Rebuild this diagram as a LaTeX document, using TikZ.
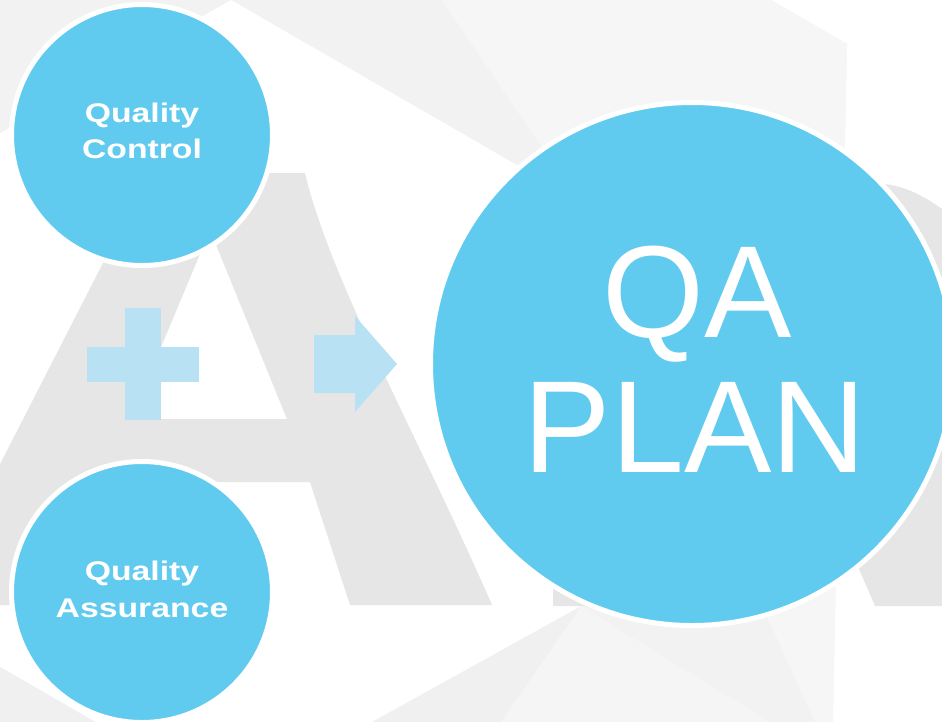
\documentclass[tikz,border=0pt]{standalone}
\usepackage{graphicx}
\usepackage{fontspec}
\setmainfont{Liberation Sans}
\definecolor{cblue}{HTML}{61CBEF}
\definecolor{plusblue}{HTML}{B8E2F4}
\definecolor{agray}{HTML}{E6E6E6}
\definecolor{ringA}{HTML}{F2F2F2}
\definecolor{ringB}{HTML}{F6F6F6}
\definecolor{ringC}{HTML}{F5F5F5}
\definecolor{ringD}{HTML}{F0F0F0}
\definecolor{ringE}{HTML}{F6F6F6}
\begin{document}
\begin{tikzpicture}[x=1pt,y=-1pt,
  bubble/.style={circle, fill=cblue, draw=white, line width=5pt, inner sep=0pt},
  smalltxt/.style={text=white, font=\fontsize{27}{32}\selectfont\bfseries, anchor=base, inner sep=0pt},
  bigtxt/.style={text=white, font=\fontsize{131}{135}\selectfont, anchor=base, inner sep=0pt},
  signfill/.style={fill=plusblue}]
\useasboundingbox (0,0) rectangle (942,721);
\clip (0,0) rectangle (942,721);
\fill[white] (0,0) rectangle (942,721);
% hexagon coordinates
\coordinate (iTop) at (231,0);
\coordinate (iUR) at (577.4,200);
\coordinate (iLR) at (581,606);
\coordinate (iBot) at (231,800);
\coordinate (iLL) at (-115.4,600);
\coordinate (iUL) at (-115.4,200);
\coordinate (oTop) at (231,-311);
\coordinate (oUR) at (847,44);
\coordinate (oLR) at (832,760);
\coordinate (oBot) at (231,1111);
\coordinate (oLL) at (-385,756);
\coordinate (oUL) at (-385,44);
% outer faceted hexagon
\fill[ringA] (oTop) -- (oUR) -- (oLR) -- (oBot) -- (oLL) -- (oUL) -- cycle;
\fill[ringB] (iUR) -- (oTop) -- (oUR) -- cycle;
\fill[ringE] (iUR) -- (oUR) -- (oLR) -- cycle;
\fill[ringA] (iUR) -- (iLR) -- (oLR) -- cycle;
\fill[ringC] (iLR) -- (oLR) -- (oBot) -- cycle;
\fill[ringD] (iLR) -- (iBot) -- (oBot) -- cycle;
\fill[ringD] (iBot) -- (oBot) -- (oLL) -- (iLL) -- cycle;
% inner white hexagon
\fill[white] (iTop) -- (iUR) -- (iLR) -- (iBot) -- (iLL) -- (iUL) -- cycle;
% big grey letter A
\fill[agray, even odd rule] (149,173) -- (305,173) .. controls (330,280) and (420,440) .. (492,605)
  -- (350,605) -- (310,482) -- (105,482) -- (54,605) -- (-72,605) -- cycle
  (210,230) -- (287,419) -- (131,419) -- cycle;
% grey letter on the right (mostly behind the big circle)
\fill[agray] (553,606) -- (553,183) -- (885,184)
  .. controls (908,187) and (928,198) .. (950,215) -- (950,606) -- (875,606) -- (855,560)
  -- (800,440) -- (640,440) -- (640,606) -- cycle;
% plus sign and arrow
\fill[signfill] (125,308) rectangle (161,420);
\fill[signfill] (87,347) rectangle (199,382);
\fill[signfill] (314,335) -- (355,335) -- (355,316) -- (397,364) -- (355,412) -- (355,393) -- (314,393) -- cycle;
% circles
\node[bubble, minimum size=261pt] (qc) at (142,135) {};
\node[bubble, minimum size=261pt] (qa) at (142,592) {};
\node[bubble, minimum size=523pt] (plan) at (692,364) {};
% texts
\node[smalltxt] (qc1) at (142,122) {\scalebox{1.25}[1]{Quality}};
\node[smalltxt] (qc2) at (142,158) {\scalebox{1.25}[1]{Control}};
\node[smalltxt] (qa1) at (142,580) {\scalebox{1.25}[1]{Quality}};
\node[smalltxt] (qa2) at (142,617) {\scalebox{1.25}[1]{Assurance}};
\node[bigtxt] (p1) at (697,337) {QA};
\node[bigtxt] (p2) at (695,472) {PLAN};
\end{tikzpicture}
\end{document}
